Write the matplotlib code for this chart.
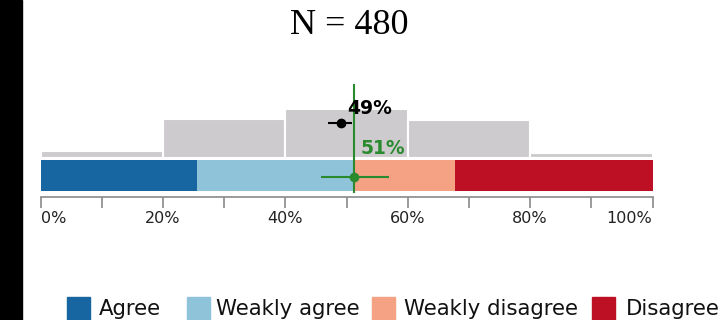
import numpy as np
import matplotlib
matplotlib.use("Agg")
import matplotlib.pyplot as plt
from matplotlib.patches import Rectangle

# Response shares (%) along the stacked bar
categories = ['Agree', 'Weakly agree', 'Weakly disagree', 'Disagree']
shares = [25.6, 25.7, 16.4, 32.3]
colors = ['#1766a2', '#8fc3da', '#f4a283', '#bd1024']

# Distribution of the estimates (grey histogram)
hist_edges = [0, 20, 40, 60, 80, 100]
hist_counts = [26, 135, 170, 132, 17]

# Observed agreement with interval (green) and estimate (black)
observed = 51.3
observed_ci = [45.8, 56.9]
estimate = 49.05
estimate_ci = [47.0, 50.9]

n_total = 480
ticks = [0, 20, 40, 60, 80, 100]

fig = plt.figure(figsize=(7.24, 3.2), dpi=100)
fig.patches.append(Rectangle((0, 0), 22 / 724, 1, transform=fig.transFigure,
                             color='black', zorder=0))

ax = fig.add_axes([40.5 / 724, 1 - 197 / 320, 612 / 724, 117 / 320])
ax.set_xlim(0, 100)
ax.set_ylim(0, 117)

# stacked bar
left = np.concatenate([[0], np.cumsum(shares)[:-1]])
ax.barh(21.5, shares, left=left, height=31, color=colors, linewidth=0)

# histogram above the bar
scale = 0.292
widths = np.diff(hist_edges)
ax.bar(hist_edges[:-1], np.array(hist_counts) * scale, width=widths, align='edge',
       bottom=38.7, color='#cdcbce', edgecolor='white', linewidth=1.5)

green = '#2a8a2e'
ax.plot([observed, observed], [5, 112], color=green, lw=1.5, zorder=3)
ax.errorbar(observed, 20.5, xerr=[[observed - observed_ci[0]], [observed_ci[1] - observed]],
            fmt='o', color=green, ms=6, lw=1.5, capsize=0, zorder=4)
ax.errorbar(estimate, 73.7, xerr=[[estimate - estimate_ci[0]], [estimate_ci[1] - estimate]],
            fmt='o', color='black', ms=6, lw=1.5, capsize=0, zorder=4)

ax.text(observed + 1.0, 48, f'{round(observed)}%', color=green, fontsize=13.5,
        fontweight='bold', va='center', ha='left')
ax.text(estimate + 1.0, 89, f'{round(estimate)}%', color='black', fontsize=13.5,
        fontweight='bold', va='center', ha='left')

# axis styling
for s in ['left', 'top', 'right']:
    ax.spines[s].set_visible(False)
ax.spines['bottom'].set_color('#8a8a8a')
ax.spines['bottom'].set_linewidth(1.2)
ax.set_yticks([])
ax.set_xticks(ticks)
ax.set_xticklabels([f'{t}%' for t in ticks], fontsize=11.5)
ax.set_xticks(np.arange(10, 100, 20), minor=True)
ax.tick_params(axis='x', which='both', length=8, width=1.2, color='#8a8a8a',
               labelcolor='#222222', pad=2)
labels = ax.get_xticklabels()
labels[0].set_ha('left')
labels[-1].set_ha('right')
ax.set_facecolor('none')

fig.text(349.5 / 724, 1 - 26 / 320, f'N = {n_total}', ha='center', va='center',
         fontsize=26, family='Liberation Serif')

# legend drawn by hand to match the reference spacing
square_x = [66.7, 186.5, 371.5, 591.7]
text_x = [99, 216, 404, 626]
for c, lab, sx, tx in zip(colors, categories, square_x, text_x):
    fig.patches.append(Rectangle((sx / 724, 0), 23 / 724, 23 / 320,
                                 transform=fig.transFigure, color=c))
    fig.text(tx / 724, 1 - 315 / 320, lab, ha='left', va='baseline',
             fontsize=15.3, color='#111111')

fig.savefig('out.png', dpi=100)
